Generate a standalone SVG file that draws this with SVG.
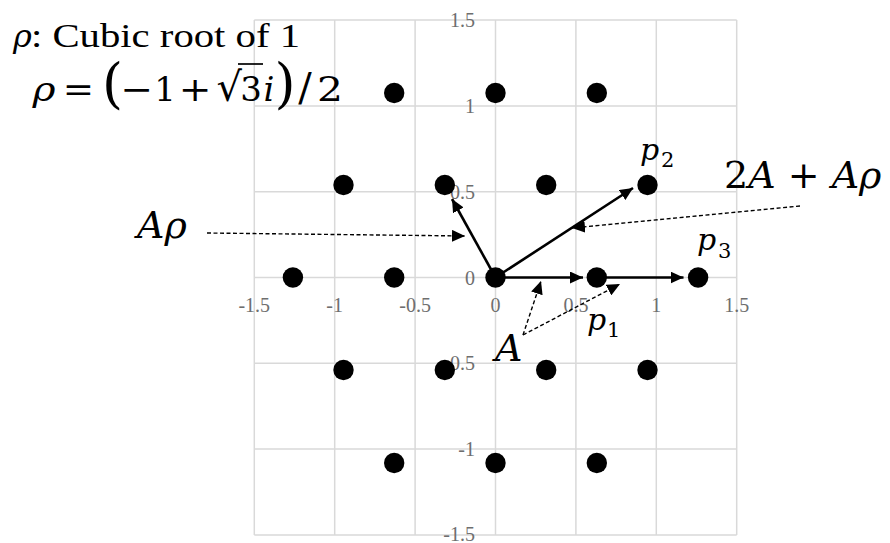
<svg xmlns="http://www.w3.org/2000/svg" width="890" height="543" viewBox="0 0 890 543">
<defs>
<marker id="ah" markerUnits="userSpaceOnUse" markerWidth="14" markerHeight="12" refX="13" refY="6" orient="auto"><path d="M0,0 L13,6 L0,12 z" fill="#000"/></marker>
<style>
.grid line{stroke:#d9d9d9;stroke-width:1.5}
.ax{font-family:"Liberation Serif","Times New Roman",serif;font-size:20px;fill:#6e6e6e}
.axx{text-anchor:middle}
.axy{text-anchor:end}
.dot{fill:#000}
.vec{stroke:#000;stroke-width:2.6;fill:none;marker-end:url(#ah)}
.dash{stroke:#000;stroke-width:1.4;stroke-dasharray:4 2.5;fill:none;marker-end:url(#ah)}
.m{font-family:"DejaVu Serif",serif;fill:#000}
.it{font-style:italic}
.t{font-family:"Liberation Serif","Times New Roman",serif;fill:#000}
.c{text-anchor:middle}
</style>
</defs>
<rect width="890" height="543" fill="#fff"/>
<g id="grid" class="grid">
<line x1="254.3" y1="20.1" x2="254.3" y2="534.9"/>
<line x1="334.7" y1="20.1" x2="334.7" y2="534.9"/>
<line x1="415.1" y1="20.1" x2="415.1" y2="534.9"/>
<line x1="495.5" y1="20.1" x2="495.5" y2="534.9"/>
<line x1="575.9" y1="20.1" x2="575.9" y2="534.9"/>
<line x1="656.3" y1="20.1" x2="656.3" y2="534.9"/>
<line x1="736.7" y1="20.1" x2="736.7" y2="534.9"/>
<line x1="254.3" y1="20.1" x2="736.7" y2="20.1"/>
<line x1="254.3" y1="105.9" x2="736.7" y2="105.9"/>
<line x1="254.3" y1="191.7" x2="736.7" y2="191.7"/>
<line x1="254.3" y1="277.5" x2="736.7" y2="277.5"/>
<line x1="254.3" y1="363.3" x2="736.7" y2="363.3"/>
<line x1="254.3" y1="449.1" x2="736.7" y2="449.1"/>
<line x1="254.3" y1="534.9" x2="736.7" y2="534.9"/>
</g>
<g id="x-axis-labels" class="ax axx">
<text x="254.3" y="312">-1.5</text>
<text x="334.7" y="312">-1</text>
<text x="415.1" y="312">-0.5</text>
<text x="495.5" y="312">0</text>
<text x="575.9" y="312">0.5</text>
<text x="656.3" y="312">1</text>
<text x="736.7" y="312">1.5</text>
</g>
<g id="y-axis-labels" class="ax axy">
<text x="475" y="27">1.5</text>
<text x="475" y="113">1</text>
<text x="475" y="199">0.5</text>
<text x="475" y="284.5">0</text>
<text x="475" y="370">-0.5</text>
<text x="475" y="456">-1</text>
<text x="475" y="541">-1.5</text>
</g>
<g id="dots" class="dot">
<g id="d-r2-a"><circle cx="394.2" cy="93" r="10.2"/></g>
<g id="d-r2-b"><circle cx="495.5" cy="93" r="10.2"/></g>
<g id="d-r2-c"><circle cx="596.8" cy="93" r="10.2"/></g>
<g id="d-r1-a"><circle cx="343.5" cy="185" r="10.2"/></g>
<g id="d-r1-b"><circle cx="444.8" cy="185" r="10.2"/></g>
<g id="d-r1-c"><circle cx="546.2" cy="185" r="10.2"/></g>
<g id="p2"><circle cx="647.5" cy="185" r="10.2"/></g>
<g id="d-r0-a"><circle cx="292.9" cy="277.5" r="10.2"/></g>
<g id="d-r0-b"><circle cx="394.2" cy="277.5" r="10.2"/></g>
<g id="origin"><circle cx="495.5" cy="277.5" r="10.2"/></g>
<g id="p1"><circle cx="596.8" cy="277.5" r="10.2"/></g>
<g id="p3"><circle cx="698.1" cy="277.5" r="10.2"/></g>
<g id="d-rm1-a"><circle cx="343.5" cy="370" r="10.2"/></g>
<g id="d-rm1-b"><circle cx="444.8" cy="370" r="10.2"/></g>
<g id="d-rm1-c"><circle cx="546.2" cy="370" r="10.2"/></g>
<g id="d-rm1-d"><circle cx="647.5" cy="370" r="10.2"/></g>
<g id="d-rm2-a"><circle cx="394.2" cy="463" r="10.2"/></g>
<g id="d-rm2-b"><circle cx="495.5" cy="463" r="10.2"/></g>
<g id="d-rm2-c"><circle cx="596.8" cy="463" r="10.2"/></g>
</g>
<g id="connectors">
<path class="vec" d="M495.5,277.5 L452,199"/>
<path class="vec" d="M495.5,277.5 L633,188"/>
<path class="vec" d="M495.5,277.5 L583,277.5"/>
<path class="vec" d="M596.8,277.5 L683.5,277.5"/>
<path class="dash" d="M207,233 L465,236"/>
<path class="dash" d="M800,206 L572,228"/>
<path class="dash" d="M523,335 L541,281"/>
<path class="dash" d="M523,335 L620,284"/>
</g>
<g id="title">
<text class="m it" x="13" y="46.5" font-size="32">ρ</text>
<text class="t" x="31" y="46.5" font-size="34" textLength="269" lengthAdjust="spacingAndGlyphs">: Cubic root of 1</text>
</g>
<g id="formula" class="m c" font-size="34">
<text class="it" transform="translate(44,101) scale(1.15,1)">ρ</text>
<text transform="translate(78.3,101) scale(1.1,1)">=</text>
<text transform="translate(112.5,102)" font-size="54">(</text>
<text transform="translate(136.7,101) scale(1.15,1)">−</text>
<text transform="translate(165,101)">1</text>
<text transform="translate(195,101) scale(1.15,1)">+</text>
<text transform="translate(242,101)" font-size="40" text-anchor="end">√</text>
<line x1="238" y1="64" x2="263" y2="64" stroke="#000" stroke-width="1.7"/>
<text transform="translate(251,101)">3</text>
<text class="it" transform="translate(269,101)">i</text>
<text transform="translate(285,102)" font-size="54">)</text>
<text transform="translate(305,101)" font-size="40">/</text>
<text transform="translate(330,101) scale(1.2,1)">2</text>
</g>
<g id="label-Arho"><text class="m it" x="137" y="238" font-size="38">Aρ</text></g>
<g id="label-2A-Arho"><text class="m" x="724" y="187.5" font-size="38">2<tspan class="it">A</tspan> + <tspan class="it">Aρ</tspan></text></g>
<g id="label-A"><text class="m it" x="495" y="361" font-size="38">A</text></g>
<g id="label-p2"><text class="m it" x="640" y="160" font-size="30">p</text><text class="m" x="661" y="166.5" font-size="21">2</text></g>
<g id="label-p1"><text class="m it" x="587" y="330" font-size="30">p</text><text class="m" x="607" y="336.5" font-size="21">1</text></g>
<g id="label-p3"><text class="m it" x="697" y="250" font-size="30">p</text><text class="m" x="718" y="258" font-size="21">3</text></g>
</svg>
